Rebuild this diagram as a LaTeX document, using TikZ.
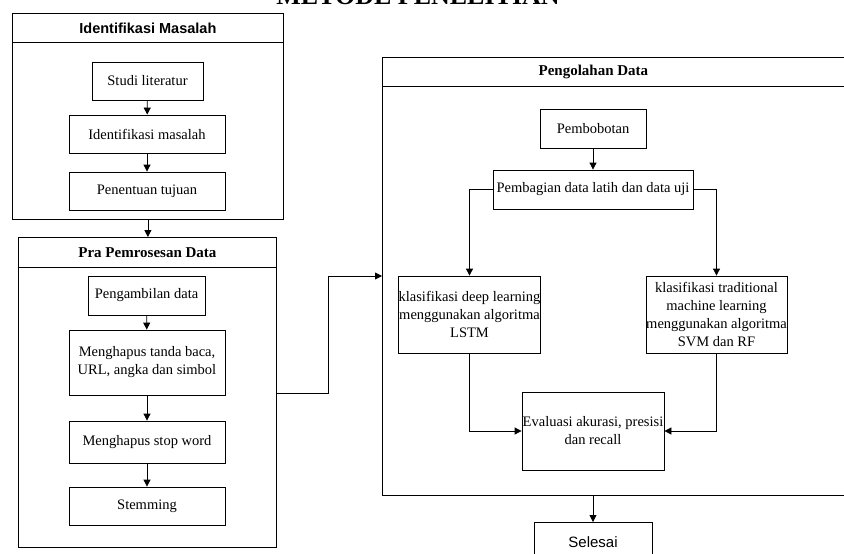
\documentclass[tikz,border=0pt]{standalone}
\usepackage{fontspec}
\setmainfont{Liberation Serif}
\setsansfont{Liberation Sans}
\usetikzlibrary{arrows.meta,positioning}

\begin{document}
\begin{tikzpicture}[x=1pt, y=-1pt, >={Triangle[length=7pt,width=7pt]},
    line width=0.8pt,
    every node/.style={inner sep=0pt, font=\fontsize{14.5}{18}\selectfont},
    proc/.style={draw, align=center, minimum height=38pt},
    lane/.style={draw, anchor=north west},
    lanehead/.style={draw, anchor=north west, minimum height=29pt,
        font=\fontsize{15}{18}\selectfont\bfseries}]

    \useasboundingbox (0,0) rectangle (844,554);
    \clip (0,0) rectangle (844,554);

    % Title
    \node[anchor=base, font=\fontsize{26}{28}\selectfont\bfseries] (title) at (418,5) {METODE PENELITIAN};

    % Lane 1
    \node[lanehead, minimum width=271pt, font=\sffamily\fontsize{14.5}{16}\selectfont\bfseries] (idhead) at (12,13) {Identifikasi Masalah};
    \node[lane, minimum width=271pt, minimum height=177pt] (idlane) at (12,42) {};
    \node[proc, minimum width=111pt] (studi) at (147.5,81) {Studi literatur};
    \node[proc, minimum width=156pt] (idmas) at (147,134) {Identifikasi masalah};
    \node[proc, minimum width=156pt] (tujuan) at (147,191) {Penentuan tujuan};

    % Lane 2
    \node[lanehead, minimum width=258pt, minimum height=30pt] (prahead) at (18,237) {Pra Pemrosesan Data};
    \node[lane, minimum width=258pt, minimum height=280pt] (pralane) at (18,267) {};
    \node[proc, minimum width=117pt, minimum height=39pt] (ambil) at (146.5,295.5) {Pengambilan data};
    \node[proc, minimum width=156pt, minimum height=65pt] (tanda) at (147,362.5) {Menghapus tanda baca,\\URL, angka dan simbol};
    \node[proc, minimum width=156pt, minimum height=42pt] (stop) at (147,442) {Menghapus stop word};
    \node[proc, minimum width=156pt] (stem) at (147,506) {Stemming};

    % Lane 3
    \node[lanehead, minimum width=464pt] (olahhead) at (382,57) {\hspace*{-42pt}Pengolahan Data};
    \node[lane, minimum width=464pt, minimum height=409pt] (olahlane) at (382,86) {};
    \node[proc, minimum width=106pt, minimum height=39pt] (bobot) at (593,128.5) {Pembobotan};
    \node[proc, minimum width=200pt, minimum height=39pt] (bagi) at (593,189.5) {Pembagian data latih dan data uji};
    \node[proc, minimum width=141pt, minimum height=77pt] (deep) at (469.5,314.5) {klasifikasi deep learning\\menggunakan algoritma\\LSTM};
    \node[proc, minimum width=141pt, minimum height=77pt] (trad) at (716.5,314.5) {klasifikasi traditional\\machine learning\\menggunakan algoritma\\SVM dan RF};
    \node[proc, minimum width=142pt, minimum height=78pt] (eval) at (593,431) {Evaluasi akurasi, presisi\\dan recall};
    \node[proc, minimum width=118pt, minimum height=40pt, anchor=north, font=\sffamily\fontsize{15}{16}\selectfont] (selesai) at (593,522) {Selesai};

    % Arrows
    \draw[->] (studi) -- (idmas);
    \draw[->] (idmas) -- (tujuan);
    \draw[->] (idlane.south) -- (prahead.north -| idlane.south);
    \draw[->] (ambil) -- (tanda);
    \draw[->] (tanda) -- (stop);
    \draw[->] (stop) -- (stem);
    \draw[->] (pralane.east |- 0,393) -| (328,276) -- (olahlane.west |- 0,276);
    \draw[->] (bobot) -- (bagi);
    \draw[->] (bagi.west) -| (deep.north);
    \draw[->] (bagi.east) -| (trad.north);
    \draw[->] (deep.south) |- (eval.west);
    \draw[->] (trad.south) |- (eval.east);
    \draw[->] (olahlane.south -| selesai.north) -- (selesai.north);
\end{tikzpicture}
\end{document}
